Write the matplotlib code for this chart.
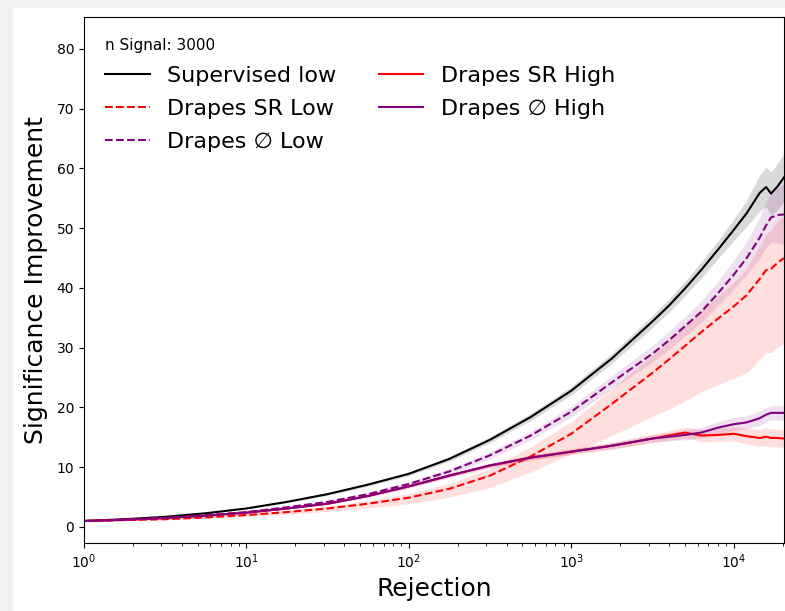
import matplotlib
matplotlib.use("Agg")
import matplotlib.pyplot as plt
import numpy as np
from matplotlib.patches import Rectangle

log_rej = [0, 0.25, 0.5, 0.75, 1.0, 1.25, 1.5, 1.75, 2.0, 2.25, 2.5, 2.75, 3.0,
           3.25, 3.5, 3.6, 3.7, 3.8, 3.9, 4.0, 4.08, 4.16, 4.2, 4.23, 4.27, 4.31]

sup_low = [1.0, 1.3, 1.7, 2.3, 3.1, 4.2, 5.5, 7.1, 8.9, 11.4, 14.6, 18.4, 22.8,
           28.2, 34.4, 37.0, 39.9, 43.0, 46.3, 49.7, 52.5, 55.9, 56.9, 55.8, 57.0, 58.5]
sup_low_err = [0, 0.02, 0.05, 0.08, 0.1, 0.15, 0.2, 0.25, 0.3, 0.4, 0.5, 0.6, 0.7,
               0.85, 1.0, 1.1, 1.2, 1.35, 1.5, 1.8, 2.2, 3.0, 3.3, 3.6, 3.9, 4.0]

sr_low = [1.0, 1.15, 1.3, 1.6, 2.0, 2.5, 3.1, 3.9, 4.9, 6.4, 8.6, 11.8, 15.6,
          20.6, 25.8, 28.0, 30.3, 32.6, 34.8, 36.9, 38.8, 41.5, 43.0, 43.2, 44.2, 45.0]
sr_low_up = [0, 0.05, 0.1, 0.15, 0.2, 0.3, 0.4, 0.5, 0.7, 0.9, 1.2, 1.6, 2.0,
             2.5, 3.0, 3.2, 3.4, 3.6, 3.8, 4.0, 4.5, 5.5, 6.0, 6.5, 7.0, 7.0]
sr_low_dn = [0, 0.05, 0.1, 0.15, 0.25, 0.35, 0.5, 0.7, 1.0, 1.4, 2.0, 2.6, 3.3,
             5.3, 7.3, 8.3, 9.2, 10.0, 11.0, 12.0, 13.0, 13.5, 13.8, 14.0, 14.2, 14.2]

phi_low = [1.0, 1.25, 1.5, 1.95, 2.5, 3.3, 4.2, 5.5, 7.2, 9.3, 12.0, 15.3, 19.3,
           24.2, 29.0, 31.2, 33.6, 36.0, 39.0, 42.2, 45.0, 48.4, 50.5, 51.8, 52.2, 52.3]
phi_low_err = [0, 0.03, 0.06, 0.1, 0.15, 0.2, 0.25, 0.3, 0.4, 0.5, 0.6, 0.7, 0.9,
               1.1, 1.4, 1.5, 1.6, 1.8, 2.0, 2.4, 2.8, 3.4, 3.8, 4.2, 4.6, 5.0]

sr_high = [1.0, 1.2, 1.5, 1.9, 2.4, 3.1, 3.9, 5.2, 6.8, 8.6, 10.3, 11.6, 12.6,
           13.6, 14.8, 15.3, 15.8, 15.3, 15.4, 15.6, 15.2, 14.9, 15.1, 14.9, 14.9, 14.8]
sr_high_err = [0, 0.02, 0.04, 0.06, 0.08, 0.1, 0.15, 0.2, 0.3, 0.35, 0.4, 0.45, 0.5,
               0.6, 0.7, 0.8, 0.9, 1.0, 1.1, 1.2, 1.3, 1.4, 1.5, 1.5, 1.5, 1.5]

phi_high = [1.0, 1.2, 1.5, 1.9, 2.4, 3.1, 3.9, 5.2, 6.8, 8.6, 10.3, 11.6, 12.6,
            13.6, 14.8, 15.1, 15.4, 15.8, 16.6, 17.2, 17.5, 18.2, 18.8, 19.1, 19.1, 19.1]
phi_high_err = [0, 0.02, 0.04, 0.06, 0.08, 0.1, 0.12, 0.15, 0.2, 0.25, 0.3, 0.35, 0.4,
                0.5, 0.6, 0.7, 0.8, 0.9, 1.0, 1.1, 1.1, 1.2, 1.2, 1.2, 1.2, 1.2]

rej = 10 ** np.array(log_rej)

fig = plt.figure(figsize=(7.85, 6.11), dpi=100)
# light grey margin of the screenshot
fig.patches.append(Rectangle((0, 0), 12 / 785, 1, transform=fig.transFigure,
                             color="#f2f2f2", zorder=-10))
fig.patches.append(Rectangle((0, 1 - 7 / 611), 1, 7 / 611, transform=fig.transFigure,
                             color="#f4f4f4", zorder=-10))
ax = fig.add_axes([84 / 785, 68 / 611, 700 / 785, 526 / 611])

def band(y, lo, hi, color, alpha):
    y = np.array(y)
    ax.fill_between(rej, y - np.array(lo), y + np.array(hi), color=color,
                    alpha=alpha, linewidth=0)

band(sup_low, sup_low_err, sup_low_err, "black", 0.15)
band(sr_low, sr_low_dn, sr_low_up, "red", 0.13)
band(phi_low, phi_low_err, phi_low_err, "purple", 0.12)
band(sr_high, sr_high_err, sr_high_err, "red", 0.13)
band(phi_high, phi_high_err, phi_high_err, "purple", 0.12)

ax.plot(rej, sup_low, "-", color="black", lw=1.5, label="Supervised low")
ax.plot(rej, sr_low, "--", color="red", lw=1.5, label="Drapes SR Low")
ax.plot(rej, phi_low, "--", color="purple", lw=1.5, label="Drapes ∅ Low")
ax.plot(rej, sr_high, "-", color="red", lw=1.5, label="Drapes SR High")
ax.plot(rej, phi_high, "-", color="purple", lw=1.5, label="Drapes ∅ High")

ax.set_xscale("log")
ax.set_xlim(1, 10 ** 4.31)
ax.set_ylim(-2.68, 85.35)
ax.set_yticks([0, 10, 20, 30, 40, 50, 60, 70, 80])
ax.set_xlabel("Rejection", fontsize=18, labelpad=4)
ax.set_ylabel("Significance Improvement", fontsize=18, labelpad=6)

ax.legend(title="n Signal: 3000", ncol=2, loc="upper left", frameon=False,
          fontsize=16, title_fontsize=11, alignment="left", handlelength=2.0,
          labelspacing=0.58, borderaxespad=0.55, columnspacing=1.9)

fig.savefig("out.png", dpi=100)
